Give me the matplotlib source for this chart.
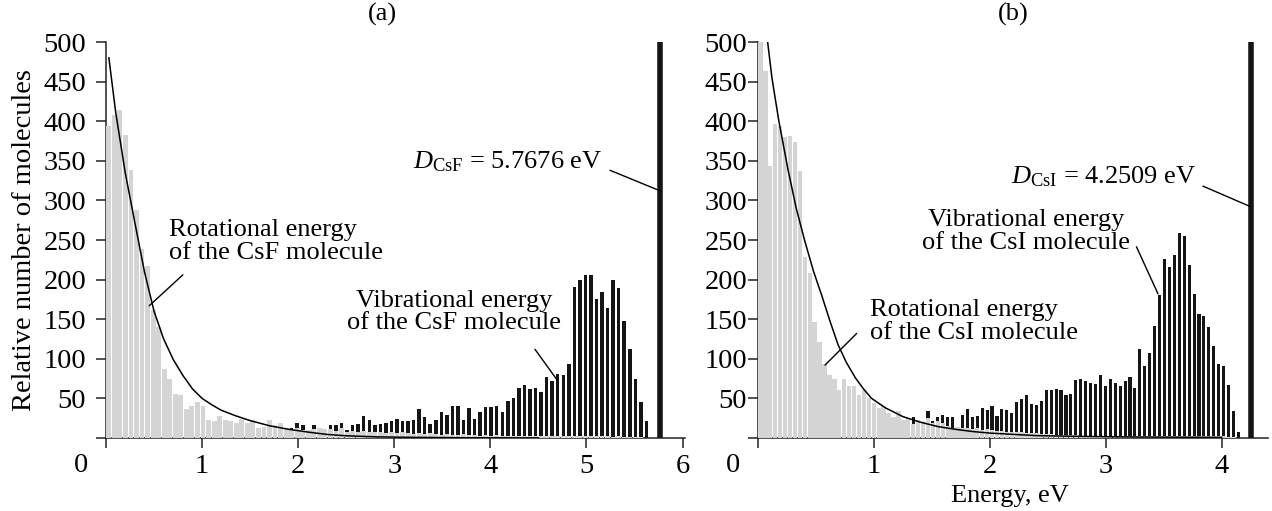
import numpy as np
import matplotlib
matplotlib.use("Agg")
import matplotlib.pyplot as plt

plt.rcParams['font.family'] = ['Liberation Serif', 'DejaVu Serif']
plt.rcParams['mathtext.fontset'] = 'custom'
plt.rcParams['mathtext.rm'] = 'Liberation Serif'
plt.rcParams['mathtext.it'] = 'Liberation Serif:italic'

# ---------------- data ----------------
D_CsF = 5.7676
D_CsI = 4.2509
n_bins = 100

rot_csf = [394, 408, 414, 383, 338, 288, 239, 217, 162, 140, 87, 75, 56, 54, 37, 40, 45, 40, 23, 22,
           28, 23, 21, 19, 24, 19, 23, 13, 14, 23, 16, 19, 12,
           10, 12, 10, 10, 11, 13, 11, 11, 9, 13, 7, 9, 8,
           9, 8, 7, 8, 6, 7, 6, 7, 6, 5, 6, 5, 6, 5,
           4, 5, 4, 4, 5, 4, 4, 3, 4, 3, 4, 3, 3, 3, 3, 3, 2, 3, 2, 3,
           2, 2, 3, 2, 2, 2, 2, 2, 2, 2, 2, 1, 2, 1, 1, 1, 1, 0, 0, 0]
vib_csf = [0, 0, 0, 0, 0, 0, 0, 1, 1, 1, 2, 2, 2, 3, 3, 4, 4, 5, 5, 6,
           6, 7, 7, 8, 8, 9, 9, 10, 10, 11, 11, 11, 11,
           13, 19, 16, 8, 16, 11, 9, 17, 17, 19, 10, 17, 18, 28, 23, 16, 18, 19, 21, 24,
           21, 22, 23, 36, 26, 18, 23, 33, 29, 40, 40, 23, 38, 24,
           33, 39, 39, 41, 33, 47, 50, 63, 67, 62, 63, 58, 77, 72, 81, 79, 93, 191, 200, 206,
           206, 176, 184, 164, 200, 190, 148, 112, 75, 45, 22, 0, 0]

rot_csi = [540, 464, 343, 397, 394, 380, 381, 374, 337, 228, 208, 146, 121, 93, 80, 75, 60, 75, 66, 66,
           54, 60, 50, 44, 38, 40, 31, 27, 34, 23, 25, 18, 23, 21, 25, 19, 22, 19, 15,
           13, 14, 12, 13, 11, 12, 10, 11, 10, 9, 9, 8, 8, 7, 7, 6, 6, 6, 5, 5, 5,
           4, 4, 4, 4, 4, 3, 3, 3, 3, 3, 3, 3, 3, 2, 2, 2, 2, 2, 2, 2,
           2, 2, 2, 2, 2, 2, 2, 2, 2, 2, 2, 2, 2, 2, 2, 1, 1, 0, 0, 0]
vib_csi = [0, 0, 0, 0, 1, 1, 2, 2, 3, 4, 5, 6, 7, 8, 9, 10, 11, 12, 13, 14,
           15, 16, 17, 18, 18, 19, 19, 20, 20, 21, 21,
           26, 20, 20, 34, 22, 26, 29, 26,
           26, 14, 29, 37, 27, 28, 38, 35, 40, 28, 37, 35, 32, 45, 49, 54, 43, 42, 47, 61,
           61, 62, 60, 54, 55, 73,
           74, 72, 70, 68, 79, 66, 74, 69, 66, 72, 77, 63, 112, 91, 107, 142, 181, 226, 216, 231,
           259, 255, 218, 182, 156, 154, 140, 116, 94, 91, 67, 34, 7, 0, 0]

# theoretical curves
curve_csf_x = [0.03, 0.1, 0.2, 0.3, 0.4, 0.5, 0.6, 0.7, 0.8, 0.9, 1.0, 1.1, 1.2, 1.35, 1.5,
               1.7, 1.9, 2.1, 2.3, 2.5, 2.8, 3.2, 3.8, 4.5]
curve_csf_y = [480, 412, 335, 272, 210, 160, 125, 99, 79, 62, 50, 42, 35, 28, 22,
               15.5, 11, 7.5, 4.5, 2.8, 1.5, 0.8, 0.3, 0.1]
curve_csi_x = [0.075, 0.12, 0.18, 0.26, 0.33, 0.405, 0.48, 0.55, 0.62, 0.69, 0.76, 0.84, 0.91,
               0.98, 1.1, 1.25, 1.4, 1.55, 1.7, 1.85, 2.0, 2.15, 2.4, 2.8, 3.3, 4.0]
curve_csi_y = [510, 455, 400, 338, 290, 248, 210, 180, 148, 118, 96, 76, 62,
               50, 38, 27, 20, 14.5, 11, 8.2, 6.2, 5, 3, 2, 1.2, 0.8]

yticks = [0, 50, 100, 150, 200, 250, 300, 350, 400, 450, 500]
ytick_labels = [''] + [str(v) for v in yticks[1:]]

GRAY = '#d4d4d4'
DARK = '#151515'
FS = 19

fig = plt.figure(figsize=(12.72, 5.11), dpi=100)
W, H = 1272, 511
bottom = (H - 438) / H
height = 396 / H
axa = fig.add_axes([106 / W, bottom, 578.5 / W, height])
axb = fig.add_axes([758 / W, bottom, 510 / W, height])


def draw_panel(ax, D, rot, vib, cx, cy, xmax, xticks, ypad):
    w = D / n_bins
    centers = (np.arange(n_bins) + 0.5) * w
    ax.bar(centers, vib, width=w * 0.63, color=DARK, linewidth=0, zorder=2)
    ax.bar(centers, rot, width=w * 0.88, color=GRAY, linewidth=0, zorder=3)
    ax.plot(cx, cy, color='black', lw=1.1, zorder=4)
    ax.vlines(D, 0, 500, color=DARK, lw=4.0, zorder=5)
    ax.set_xlim(0, xmax)
    ax.set_ylim(0, 500)
    ax.set_xticks(xticks)
    ax.set_xticklabels([''] + [str(t) for t in xticks[1:]])
    ax.set_yticks(yticks)
    ax.set_yticklabels(ytick_labels)
    for s in ['top', 'right']:
        ax.spines[s].set_visible(False)
    for s in ['left', 'bottom']:
        ax.spines[s].set_linewidth(1.1)
        ax.spines[s].set_color('#222222')
    ax.tick_params(axis='both', direction='out', length=7.2, width=1.1,
                   color='#222222', labelsize=20.5)
    ax.tick_params(axis='x', pad=4)
    ax.tick_params(axis='y', pad=ypad)
    ax.annotate('0', xy=(0, 0), xycoords='axes fraction', xytext=(-25, -27),
                textcoords='offset pixels', ha='center', va='center', fontsize=20.5)


draw_panel(axa, D_CsF, rot_csf, vib_csf, curve_csf_x, curve_csf_y, 6.02, [0, 1, 2, 3, 4, 5, 6], 7)
draw_panel(axb, D_CsI, rot_csi, vib_csi, curve_csi_x, curve_csi_y, 4.4, [0, 1, 2, 3, 4], 0.5)


def pointer(ax, start, tip):
    ax.annotate('', xy=tip, xytext=start,
                arrowprops=dict(arrowstyle='-', lw=1.0, color='black', shrinkA=0, shrinkB=0),
                zorder=6)


# panel (a) annotations
axa.text(0.655, 248, 'Rotational energy\nof the CsF molecule', ha='left', va='center',
         multialignment='left', fontsize=FS, linespacing=1.05, zorder=7)
pointer(axa, (0.80, 206), (0.45, 167))
axa.text(3.62, 159, 'Vibrational energy\nof the CsF molecule', ha='center', va='center',
         multialignment='center', fontsize=FS, linespacing=1.05, zorder=7)
pointer(axa, (4.464, 112), (4.696, 73))
axa.text(5.161, 341, r'$D_{\mathrm{CsF}}$ = 5.7676 eV', ha='right', va='baseline', fontsize=FS, zorder=7)
pointer(axa, (5.245, 338), (D_CsF, 312))

# panel (b) annotations
axb.text(0.966, 147, 'Rotational energy\nof the CsI molecule', ha='left', va='center',
         multialignment='left', fontsize=FS, linespacing=1.05, zorder=7)
pointer(axb, (0.851, 132), (0.578, 92))
axb.text(2.31, 261, 'Vibrational energy\nof the CsI molecule', ha='center', va='center',
         multialignment='center', fontsize=FS, linespacing=1.05, zorder=7)
pointer(axb, (3.265, 241.5), (3.451, 182))
axb.text(3.784, 321, r'$D_{\mathrm{CsI}}$ = 4.2509 eV', ha='right', va='baseline', fontsize=FS, zorder=7)
pointer(axb, (3.839, 318), (D_CsI, 292))

# titles and axis labels
fig.text(382 / W, 1 - 14 / H, '(a)', ha='center', va='center', fontsize=FS)
fig.text(1013 / W, 1 - 14 / H, '(b)', ha='center', va='center', fontsize=FS)
fig.text(25 / W, 1 - 240 / H, 'Relative number of molecules', rotation=90,
         ha='center', va='center', fontsize=20.5)
fig.text(1010 / W, 1 - 496 / H, 'Energy, eV', ha='center', va='center', fontsize=FS)

fig.savefig('out.png', dpi=100)
